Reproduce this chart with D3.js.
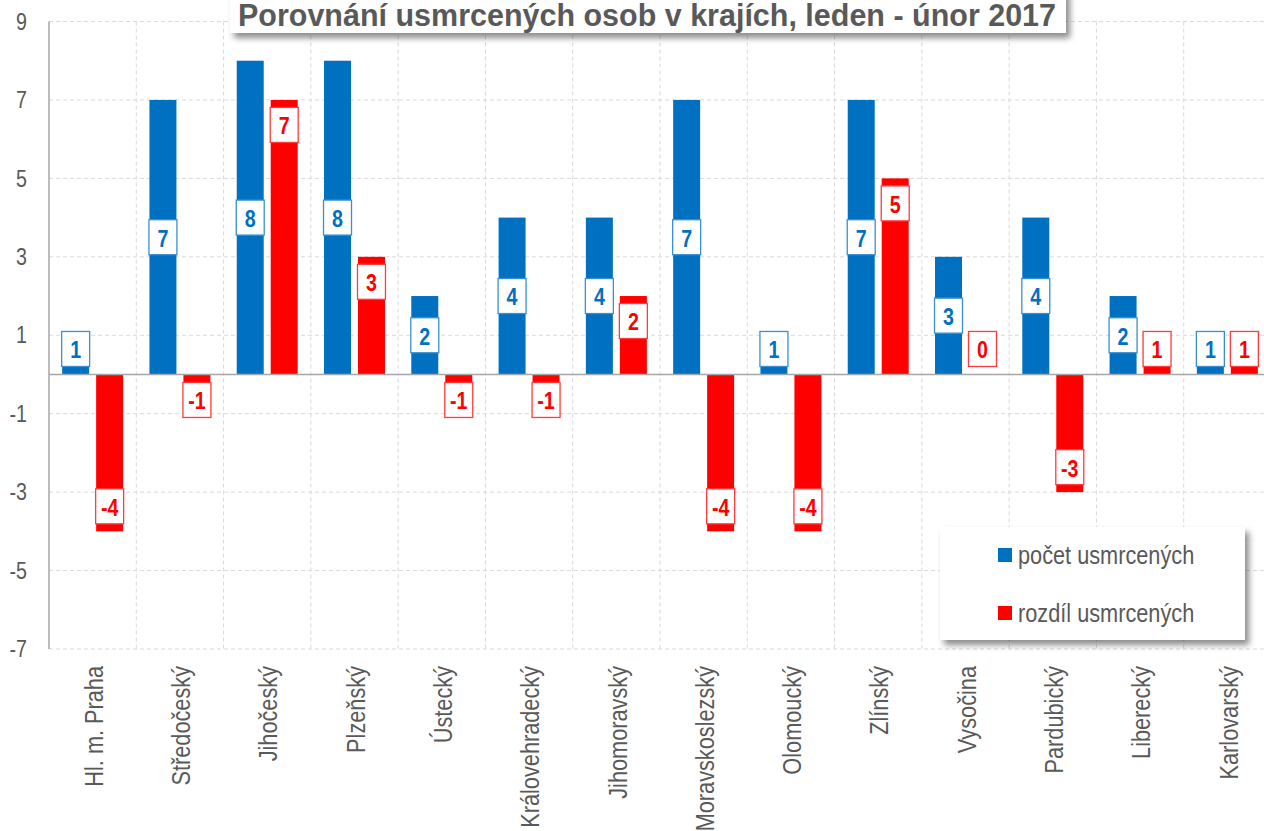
<!DOCTYPE html>
<html>
<head>
<meta charset="utf-8">
<script src="https://cdn.jsdelivr.net/npm/d3@7"></script>
<style>
  body { margin: 0; background: #fff; }
  svg text { font-family: "Liberation Sans", Arial, sans-serif; }
</style>
</head>
<body>
<svg id="chart" width="1264" height="831"></svg>
<script>
const regions = ["Hl. m. Praha", "Středočeský", "Jihočeský", "Plzeňský", "Ústecký", "Královehradecký",
  "Jihomoravský", "Moravskoslezský", "Olomoucký", "Zlínský", "Vysočina", "Pardubický", "Liberecký", "Karlovarský"];
const pocet = [1, 7, 8, 8, 2, 4, 4, 7, 1, 7, 3, 4, 2, 1];
const rozdil = [-4, -1, 7, 3, -1, -1, 2, -4, -4, 5, 0, -3, 1, 1];
const seriesNames = ["počet usmrcených", "rozdíl usmrcených"];
const yTicks = [9, 7, 5, 3, 1, -1, -3, -5, -7];
const titleText = "Porovnání usmrcených osob v krajích, leden - únor 2017";

const BLUE = "#0070c0", RED = "#ff0000", GREY = "#595959";
const NARROW = 0.82; // no Arial Narrow here, squeeze Liberation Sans instead

const svg = d3.select("#chart");
const plotL = 49, plotR = 1271, plotT = 21.5, plotB = 649;

const defs = svg.append("defs");
const sh = defs.append("filter").attr("id", "shadow").attr("x", "-10%").attr("y", "-30%").attr("width", "130%").attr("height", "180%");
sh.append("feDropShadow").attr("dx", 4).attr("dy", 5).attr("stdDeviation", 3).attr("flood-color", "#000").attr("flood-opacity", 0.45);

const x = d3.scaleBand().domain(regions).range([plotL, plotR]);
const xs = d3.scaleBand().domain(seriesNames).range([0, x.bandwidth()]).paddingInner(0.206).paddingOuter(0.387);
const y = d3.scaleLinear().domain([-7, 9]).range([plotB, plotT]);
const y0 = y(0);

// grid
const grid = svg.append("g").attr("stroke", "#d9d9d9").attr("stroke-dasharray", "4,3").attr("stroke-width", 1);
grid.selectAll("line.h").data(yTicks).join("line")
  .attr("x1", plotL).attr("x2", plotR).attr("y1", d => y(d)).attr("y2", d => y(d));
grid.selectAll("line.v").data(regions).join("line")
  .attr("x1", d => x(d) + x.bandwidth()).attr("x2", d => x(d) + x.bandwidth())
  .attr("y1", plotT).attr("y2", plotB);

// y axis labels
const yAxis = svg.append("g").attr("transform", `translate(${plotL - 22},0)`)
  .call(d3.axisLeft(y).tickValues(yTicks).tickSize(0).tickPadding(0).tickFormat(d => d));
yAxis.select(".domain").remove();
yAxis.selectAll("text").attr("fill", GREY).attr("font-size", 24).attr("font-family", null)
  .attr("transform", `scale(${NARROW},1)`);

// bars
const rows = regions.map((r, i) => ({ r, vals: [pocet[i], rozdil[i]] }));
const grp = svg.append("g").selectAll("g").data(rows).join("g").attr("transform", d => `translate(${x(d.r)},0)`);
grp.selectAll("rect").data(d => d.vals.map((v, k) => ({ v, k }))).join("rect")
  .attr("x", d => xs(seriesNames[d.k]))
  .attr("width", xs.bandwidth())
  .attr("y", d => Math.min(y(d.v), y0))
  .attr("height", d => Math.abs(y(d.v) - y0))
  .attr("fill", d => d.k === 0 ? BLUE : RED);

// axes lines
svg.append("line").attr("x1", plotL).attr("x2", plotR).attr("y1", y0).attr("y2", y0).attr("stroke", "#a6a6a6").attr("stroke-width", 1.5);
svg.append("line").attr("x1", plotL).attr("x2", plotL).attr("y1", plotT).attr("y2", plotB).attr("stroke", "#a6a6a6").attr("stroke-width", 1.5);

// data labels
const bh = 35, gap = 8, inset = 7.5;
function boxTop(d) {
  if (d.k === 0) {
    const cy = (y(d.v) + y0) / 2;
    return d.v >= 0 ? Math.min(cy - bh / 2, y0 - gap - bh) : Math.max(cy - bh / 2, y0 + gap);
  }
  return d.v >= 0 ? Math.min(y(d.v) + inset, y0 - gap - bh) : Math.max(y(d.v) - inset - bh, y0 + gap);
}
const lab = grp.selectAll("g.lab").data(d => d.vals.map((v, k) => ({ v, k }))).join("g").attr("class", "lab");
lab.append("rect")
  .attr("x", d => xs(seriesNames[d.k]) - 0.5).attr("width", xs.bandwidth() + 1)
  .attr("y", boxTop).attr("height", bh)
  .attr("fill", "#fff").attr("stroke", d => d.k === 0 ? "#3a8fd4" : "#ff3b3b").attr("stroke-width", 1.3);
lab.append("text")
  .attr("transform", d => `translate(${xs(seriesNames[d.k]) + xs.bandwidth() / 2},${boxTop(d) + bh / 2 + 1}) scale(${NARROW},1)`)
  .attr("dy", "0.35em").attr("text-anchor", "middle")
  .attr("font-size", 24).attr("font-weight", "bold")
  .attr("fill", d => d.k === 0 ? BLUE : RED)
  .text(d => d.v);

// category labels
svg.append("g").selectAll("text").data(regions).join("text")
  .attr("transform", d => `translate(${x(d) + x.bandwidth() / 2 + 1},${plotB + 17}) rotate(-90) scale(${NARROW},1)`)
  .attr("text-anchor", "end").attr("dy", "0.35em")
  .attr("font-size", 26.5).attr("fill", GREY)
  .text(d => d);

// title
svg.append("rect").attr("x", 230).attr("y", -10).attr("width", 836).attr("height", 43)
  .attr("fill", "#fff").attr("filter", "url(#shadow)");
svg.append("text").attr("x", 238).attr("y", 26)
  .attr("font-size", 32).attr("font-weight", "bold").attr("fill", GREY)
  .attr("textLength", 818).attr("lengthAdjust", "spacingAndGlyphs")
  .text(titleText);

// legend
const lg = svg.append("g");
lg.append("rect").attr("x", 940).attr("y", 527).attr("width", 305).attr("height", 113)
  .attr("fill", "#fff").attr("filter", "url(#shadow)");
const li = lg.selectAll("g.item").data(seriesNames).join("g").attr("class", "item")
  .attr("transform", (d, i) => `translate(998,${555 + i * 58})`);
li.append("rect").attr("x", 0).attr("y", -7).attr("width", 14).attr("height", 14)
  .attr("fill", (d, i) => i === 0 ? BLUE : RED);
li.append("text").attr("transform", `translate(20,0) scale(${NARROW},1)`)
  .attr("dy", "0.35em").attr("font-size", 26.5).attr("fill", GREY).text(d => d);
</script>
</body>
</html>
